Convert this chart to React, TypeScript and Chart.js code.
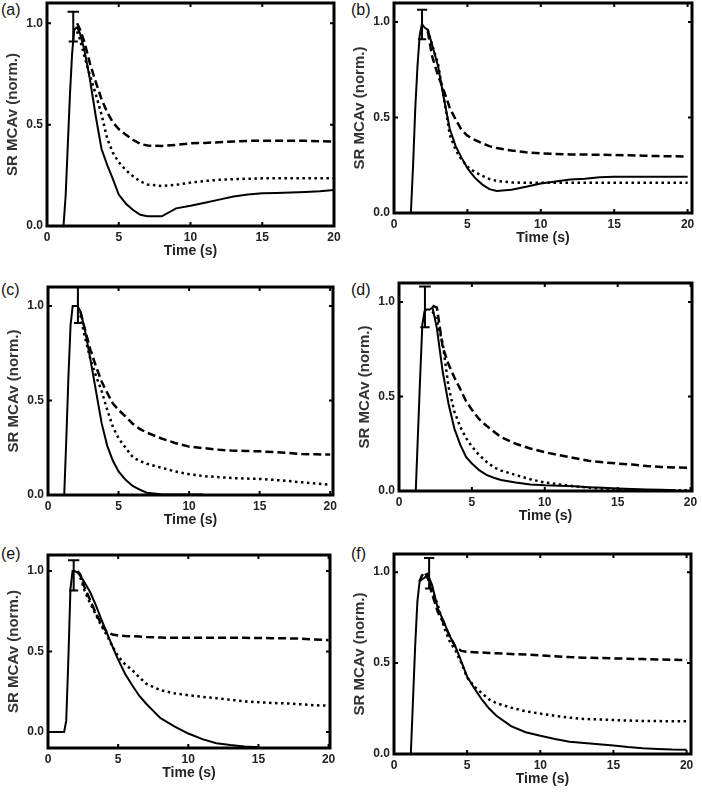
import React, { useEffect, useRef } from "react";
import { Chart, registerables } from "chart.js";
Chart.register(...registerables);

const N = null;

// Common time grid (s)
const time = [0, 1.15, 1.3, 1.45, 1.6, 1.75, 1.9, 2.1, 2.3, 2.6, 3.0, 3.4, 3.8, 4.2, 4.6, 5.0, 5.5, 6.0, 6.5, 7.0, 8, 9, 10, 11, 12, 13, 14, 15, 16, 17, 18, 19, 20];

const aSolid = [0, 0, 0.15, 0.4, 0.65, 0.85, 0.97, 0.98, 0.95, 0.87, 0.72, 0.54, 0.38, 0.3, 0.23, 0.155, 0.11, 0.079, 0.055, 0.048, 0.048, 0.087, 0.10, 0.115, 0.13, 0.145, 0.155, 0.161, 0.163, 0.165, 0.168, 0.172, 0.178];
const aDashed = [N, N, N, N, N, N, N, 1.0, 0.97, 0.91, 0.80, 0.71, 0.625, 0.56, 0.51, 0.478, 0.45, 0.425, 0.405, 0.397, 0.395, 0.40, 0.408, 0.41, 0.413, 0.417, 0.42, 0.42, 0.42, 0.42, 0.42, 0.418, 0.417];
const aDotted = [N, N, N, N, N, N, N, 0.96, 0.92, 0.84, 0.74, 0.65, 0.55, 0.43, 0.36, 0.315, 0.275, 0.245, 0.22, 0.205, 0.197, 0.203, 0.214, 0.222, 0.228, 0.231, 0.233, 0.235, 0.235, 0.235, 0.235, 0.235, 0.235];

const bSolid = [0, 0, 0.25, 0.55, 0.77, 0.93, 0.99, 0.97, 0.96, 0.88, 0.77, 0.6, 0.44, 0.35, 0.29, 0.235, 0.185, 0.15, 0.125, 0.115, 0.122, 0.137, 0.155, 0.165, 0.175, 0.18, 0.187, 0.19, 0.19, 0.19, 0.19, 0.19, 0.19];
const bDashed = [N, N, N, N, N, N, N, N, 0.95, 0.82, 0.72, 0.64, 0.55, 0.49, 0.435, 0.405, 0.383, 0.365, 0.35, 0.34, 0.327, 0.318, 0.312, 0.309, 0.307, 0.306, 0.305, 0.304, 0.302, 0.3, 0.298, 0.297, 0.296];
const bDotted = [N, N, N, N, N, N, N, N, 0.96, 0.88, 0.78, 0.6, 0.41, 0.33, 0.28, 0.243, 0.215, 0.195, 0.178, 0.168, 0.16, 0.158, 0.158, 0.158, 0.158, 0.158, 0.158, 0.158, 0.158, 0.158, 0.158, 0.158, 0.158];

const cSolid = [0, 0, 0.3, 0.63, 0.9, 1.0, 1.0, 1.0, 0.97, 0.88, 0.72, 0.55, 0.38, 0.26, 0.181, 0.125, 0.08, 0.048, 0.028, 0.012, 0.004, 0.003, 0.003, 0.003, N, N, N, N, N, N, N, N, N];
const cDashed = [N, N, N, N, N, N, N, N, 0.97, 0.88, 0.77, 0.68, 0.6, 0.54, 0.484, 0.45, 0.415, 0.377, 0.35, 0.33, 0.3, 0.275, 0.256, 0.248, 0.24, 0.235, 0.233, 0.231, 0.227, 0.222, 0.217, 0.215, 0.214];
const cDotted = [N, N, N, N, N, N, N, N, 0.95, 0.84, 0.72, 0.63, 0.55, 0.45, 0.36, 0.3, 0.25, 0.2, 0.18, 0.165, 0.145, 0.125, 0.11, 0.1, 0.095, 0.09, 0.087, 0.085, 0.08, 0.074, 0.067, 0.06, 0.055];

const dSolid = [0, 0, 0.3, 0.6, 0.88, 0.95, 0.96, 0.96, 0.97, 0.86, 0.63, 0.46, 0.33, 0.245, 0.18, 0.145, 0.11, 0.085, 0.07, 0.058, 0.045, 0.035, 0.03, 0.028, 0.025, 0.02, 0.017, 0.013, 0.01, 0.008, 0.006, 0.004, N];
const dDashed = [N, N, N, N, N, N, N, N, 0.98, 0.97, 0.76, 0.67, 0.6, 0.54, 0.475, 0.43, 0.38, 0.345, 0.315, 0.285, 0.25, 0.225, 0.205, 0.19, 0.175, 0.16, 0.152, 0.145, 0.14, 0.132, 0.127, 0.124, 0.123];
const dDotted = [N, N, N, N, N, N, N, N, 0.95, 0.9, 0.78, 0.55, 0.42, 0.34, 0.28, 0.235, 0.19, 0.155, 0.125, 0.108, 0.085, 0.062, 0.045, 0.035, 0.025, 0.018, 0.012, 0.007, 0.005, 0.004, 0.004, 0.004, 0.004];

const eSolid = [0, 0, 0.07, 0.45, 0.89, 1.0, 1.0, 0.99, 0.97, 0.93, 0.87, 0.79, 0.70, 0.615, 0.53, 0.45, 0.36, 0.29, 0.225, 0.175, 0.087, 0.035, -0.01, -0.045, -0.07, -0.082, -0.09, -0.095, N, N, N, N, N];
const eDashed = [N, N, N, N, N, N, N, 1.0, 0.98, 0.9, 0.82, 0.74, 0.67, 0.62, 0.606, 0.6, 0.597, 0.595, 0.593, 0.59, 0.587, 0.585, 0.585, 0.585, 0.585, 0.585, 0.585, 0.584, 0.583, 0.582, 0.58, 0.575, 0.57];
const eDotted = [N, N, N, N, N, N, N, N, 0.96, 0.88, 0.80, 0.73, 0.66, 0.6, 0.53, 0.47, 0.42, 0.385, 0.34, 0.3, 0.26, 0.24, 0.228, 0.218, 0.21, 0.2, 0.19, 0.185, 0.18, 0.177, 0.172, 0.166, 0.163];

const fSolid = [0, 0, 0.3, 0.6, 0.84, 0.95, 0.96, 0.97, 0.99, 0.93, 0.8, 0.73, 0.65, 0.59, 0.51, 0.425, 0.36, 0.3, 0.25, 0.21, 0.153, 0.12, 0.1, 0.083, 0.068, 0.06, 0.053, 0.047, 0.038, 0.032, 0.028, 0.025, 0.024];
const fDashed = [N, N, N, N, N, 0.95, 0.98, 1.0, 0.97, 0.88, 0.78, 0.72, 0.65, 0.59, 0.567, 0.562, 0.56, 0.558, 0.556, 0.554, 0.55, 0.547, 0.543, 0.538, 0.533, 0.53, 0.528, 0.526, 0.524, 0.522, 0.52, 0.518, 0.517];
const fDotted = [N, N, N, N, N, N, N, N, 0.97, 0.9, 0.82, 0.7, 0.62, 0.57, 0.5, 0.42, 0.37, 0.335, 0.3, 0.28, 0.255, 0.235, 0.222, 0.21, 0.2, 0.193, 0.19, 0.187, 0.184, 0.182, 0.181, 0.18, 0.18];

// Peak error bars (per panel a..f)
const errX = [1.83, 1.91, 2.12, 1.78, 1.83, 2.4];
const errHi = [1.057, 1.065, 1.1, 1.081, 1.068, 1.078];
const errLo = [0.91, 0.91, 0.91, 0.866, 0.88, 0.91];
const capHalf = [0.4, 0.35, 0.35, 0.4, 0.4, 0.35];

const panelLetters = ["(a)", "(b)", "(c)", "(d)", "(e)", "(f)"];
const xTicks = [0, 5, 10, 15, 20];
const yTicks = [0, 0.5, 1.0];
const yMins = [0, 0, 0, 0, -0.1, 0];
const yMaxs = [1.1, 1.1, 1.1, 1.1, 1.1, 1.1];
const xMaxs = [20, 20.3, 20.2, 20.1, 20.1, 20.3];
const xTitle = "Time (s)";
const yTitle = "SR MCAv (norm.)";

const panelSeries = [
  [aSolid, aDashed, aDotted],
  [bSolid, bDashed, bDotted],
  [cSolid, cDashed, cDotted],
  [dSolid, dDashed, dDotted],
  [eSolid, eDashed, eDotted],
  [fSolid, fDashed, fDotted],
];

// Layout (page pixels of each plot box)
const areas = [
  { L: 47, T: 3, R: 334, B: 226 },
  { L: 394, T: 3, R: 692, B: 213 },
  { L: 48, T: 287, R: 333, B: 495 },
  { L: 399, T: 283, R: 692, B: 491 },
  { L: 48, T: 555, R: 330, B: 748 },
  { L: 394, T: 554, R: 691, B: 754 },
];
const letterPos = [
  { x: 1, y: 2 }, { x: 351, y: 2 }, { x: 1, y: 282 },
  { x: 351, y: 282 }, { x: 1, y: 546 }, { x: 351, y: 546 },
];
const PAD_L = 50, PAD_T = 12, PAD_R = 16, PAD_B = 42;
const FONT = "'Liberation Sans', Arial, Helvetica, sans-serif";

const boxPlugin = {
  id: "boxTicks",
  afterDatasetsDraw(chart: any) {
    const { ctx, chartArea, scales } = chart;
    const { left, top, right, bottom } = chartArea;
    const x = scales.x, y = scales.y;
    const tl = 4;
    ctx.save();
    ctx.strokeStyle = "#000";
    ctx.lineWidth = 2;
    ctx.beginPath();
    for (const v of xTicks) {
      const px = x.getPixelForValue(v);
      ctx.moveTo(px, bottom); ctx.lineTo(px, bottom - tl);
      ctx.moveTo(px, top); ctx.lineTo(px, top + tl);
    }
    for (const v of yTicks) {
      const py = y.getPixelForValue(v);
      ctx.moveTo(left, py); ctx.lineTo(left + tl, py);
      ctx.moveTo(right, py); ctx.lineTo(right - tl, py);
    }
    ctx.stroke();
    ctx.lineWidth = 3;
    ctx.strokeRect(left, top, right - left, bottom - top);
    ctx.restore();
  },
};

function buildDatasets(i: number) {
  const [solid, dashed, dotted] = panelSeries[i];
  const pts = (vals: (number | null)[]) => time.map((t, k) => ({ x: t, y: vals[k] }));
  const ex = errX[i], hi = errHi[i], lo = errLo[i], hw = capHalf[i];
  const errPts = [
    { x: ex - hw, y: hi }, { x: ex + hw, y: hi }, { x: ex, y: null },
    { x: ex, y: hi }, { x: ex, y: lo }, { x: ex, y: null },
    { x: ex - hw * 0.8, y: lo }, { x: ex + hw * 0.8, y: lo },
  ];
  const base = { borderColor: "#000", borderWidth: 2, pointRadius: 0, fill: false, tension: 0, spanGaps: false };
  return [
    { ...base, label: "solid", data: pts(solid) },
    { ...base, label: "dashed", data: pts(dashed), borderWidth: 2.5, borderDash: [8, 4] },
    { ...base, label: "dotted", data: pts(dotted), borderWidth: 2.5, borderDash: [2.5, 3.5] },
    { ...base, label: "error", data: errPts },
  ];
}

function Panel({ i }: { i: number }) {
  const ref = useRef<HTMLCanvasElement>(null);
  const a = areas[i];
  const w = Math.round(a.R - a.L) + PAD_L + PAD_R;
  const h = Math.round(a.B - a.T) + PAD_T + PAD_B;
  useEffect(() => {
    if (!ref.current) return;
    const chart = new Chart(ref.current, {
      type: "line",
      data: { datasets: buildDatasets(i) as any },
      options: {
        responsive: false,
        maintainAspectRatio: false,
        animation: false,
        events: [],
        layout: { padding: { left: 0, top: PAD_T, right: PAD_R, bottom: 0 } },
        plugins: { legend: { display: false }, tooltip: { enabled: false } },
        scales: {
          x: {
            type: "linear",
            min: 0,
            max: xMaxs[i],
            afterFit: (s: any) => { s.height = PAD_B; },
            afterBuildTicks: (s: any) => { s.ticks = xTicks.map((v) => ({ value: v })); },
            grid: { display: false, drawTicks: false },
            border: { display: false },
            ticks: {
              font: { family: FONT, size: 12, weight: "bold" },
              color: "#222",
              padding: 4,
              maxRotation: 0,
              autoSkip: false,
              callback: (v: any) => String(v),
            },
            title: {
              display: true,
              text: xTitle,
              font: { family: FONT, size: 14, weight: "bold" },
              color: "#222",
              padding: { top: 0, bottom: 8 },
            },
          },
          y: {
            type: "linear",
            min: yMins[i],
            max: yMaxs[i],
            afterFit: (s: any) => { s.width = PAD_L; },
            afterBuildTicks: (s: any) => { s.ticks = yTicks.map((v) => ({ value: v })); },
            grid: { display: false, drawTicks: false },
            border: { display: false },
            ticks: {
              font: { family: FONT, size: 12, weight: "bold" },
              color: "#222",
              padding: 4,
              autoSkip: false,
              callback: (v: any) => Number(v).toFixed(1),
            },
            title: {
              display: true,
              text: yTitle,
              font: { family: FONT, size: 15, weight: "bold" },
              color: "#333",
              padding: { top: 7, bottom: 0 },
            },
          },
        },
      },
      plugins: [boxPlugin],
    });
    return () => chart.destroy();
  }, [i]);
  return (
    <canvas
      ref={ref}
      width={w}
      height={h}
      style={{ position: "absolute", left: Math.round(a.L) - PAD_L, top: Math.round(a.T) - PAD_T, width: w, height: h }}
    />
  );
}

export default function App() {
  return (
    <div style={{ position: "absolute", left: 0, top: 0, width: 702, height: 792, background: "#fff", overflow: "hidden" }}>
      {panelLetters.map((t, i) => (
        <div
          key={t}
          style={{ position: "absolute", left: letterPos[i].x, top: letterPos[i].y, fontFamily: FONT, fontSize: 16, lineHeight: "16px", color: "#111" }}
        >
          {t}
        </div>
      ))}
      {panelSeries.map((_, i) => (
        <Panel key={i} i={i} />
      ))}
    </div>
  );
}
